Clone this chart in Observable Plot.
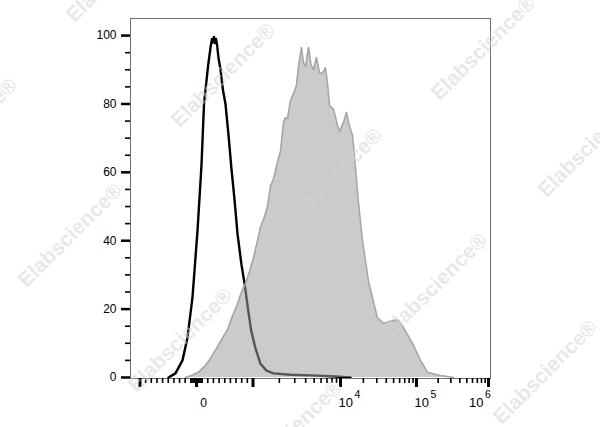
<!DOCTYPE html>
<html><head><meta charset="utf-8">
<script src="https://cdn.jsdelivr.net/npm/d3@7"></script>
<script src="https://cdn.jsdelivr.net/npm/@observablehq/plot@0.6"></script>
<style>
body{margin:0;background:#fff;}
#wrap{position:relative;width:600px;height:427px;overflow:hidden;background:#fff;}
#wm{position:absolute;left:0;top:0;width:600px;height:427px;pointer-events:none;}
.w{position:absolute;font:bold 21px "Liberation Sans",Arial,sans-serif;color:rgba(212,212,212,0.55);transform:translate(-50%,-50%) rotate(-45deg);white-space:nowrap;}
</style></head><body><div id="wrap"><div id="chart"></div><div id="wm"></div></div>
<script>
// Control (unstained) histogram: fluorescence intensity vs % of max
const blackX = [-496,-372,-248,-159,-71,18,88,133,204,248,274,292,310,327,345,363,389,425,469,513,566,619,673,726,796,855,912,968,1068,1218,1427,1715,2683,4540,8768,13540];
const blackY = [0,1.2,5,11.7,23.4,43,62,80,91,96.5,99,98,99.6,97.8,99,97.5,93.5,90,84,80,71,61,52,42,33,27,20,13.7,8.5,4,2,1.2,0.8,0.6,0.3,0];
// Stained histogram
const greyX = [-195,-88,35,159,265,354,460,549,637,726,796,867,938,1013,1126,1218,1353,1465,1585,1715,1905,2062,2232,2352,2480,2683,2903,3142,3311,3584,3777,3981,4308,4601,4914,5317,5754,6228,6740,7103,7486,8318,9241,9741,10950,11990,12740,14390,15750,17250,19480,21330,23360,26370,30400,36800,42820,49830,57980,67450,88600,113700,142200,215400,326500];
const greyY = [0,0.6,1.5,3.5,6,8.5,11.5,14,18,21.5,25,27.5,31,35,40,44,47,50,56,58,63,66,74.6,76,75.7,81,83,85.5,91,96.5,92,91,96.5,91.5,90,93.6,89,89,90.6,86,79.5,78.5,73.7,72,74.6,77.5,74.6,70.8,61,51,40,34,28,23.4,17.6,15.8,16.3,16.7,16.7,14.6,10,5,1.5,0.6,0];

// Axis ticks and labels
const yMajor = [0,20,40,60,80,100];
const yMinor = [5,10,15,25,30,35,45,50,55,65,70,75,85,90,95];
const xMajor = [-1000,0,1000,1e4,1e5,1e6];
const xMinorLinear = [-900,-800,-700,-600,-500,-400,-300,-200,-100,-80,-60,-40,-20,20,40,60,80,100,200,300,400,500,600,700,800,900];
const xMinorMantissa = [2,3,4,5,6,7,8,9];
const xLabelValues = [0,1e4,1e5,1e6];
const xLabelBase = ["0","10","10","10"];
const xLabelExp = ["","4","5","6"];
const xMin = -1284, xMax = 1.067e6;
const yMin = -0.3, yMax = 105;

// biexponential-like display transform (linear within ±1000, log beyond)
const LIN = 1000;
const decadeWidth = [1.549, 1.345, 1.274];
function disp(v){
  const a = Math.abs(v), s = Math.sign(v);
  if (a <= LIN) return v / LIN;
  let L = Math.log10(a / LIN), d = 1;
  for (let i = 0; i < decadeWidth.length && L > 0; i++){
    const step = Math.min(L, 1); d += step * decadeWidth[i]; L -= step;
  }
  if (L > 0) d += L * decadeWidth[decadeWidth.length - 1];
  return s * d;
}

const black = blackX.map((v,i)=>({x:disp(v), y:blackY[i]}));
const grey = greyX.map((v,i)=>({x:disp(v), y:greyY[i]}));
const xMinor = xMinorLinear.concat(xMinorMantissa.flatMap(m=>[m*1e3,m*1e4,m*1e5]));
const xDomain = [disp(xMin), disp(xMax)];
const labels = xLabelValues.map((v,i)=>({
  v, base:xLabelBase[i], exp:xLabelExp[i],
  lx: xLabelExp[i] === "" ? disp(v) + 0.124 : Math.min(disp(v) + 0.221, xDomain[1] - 0.124)
}));
const zeroLab = labels.filter(d=>d.exp==="");
const powLab = labels.filter(d=>d.exp!=="");
const blank = () => "";

const chart = Plot.plot({
  width:600, height:427,
  marginLeft:130, marginRight:110, marginTop:18, marginBottom:49,
  style:{fontFamily:"'Liberation Sans', Arial, sans-serif", fontSize:"12px", color:"#000", background:"#fff"},
  x:{domain:xDomain, axis:null},
  y:{domain:[yMin,yMax], axis:null},
  marks:[
    Plot.lineY(black,{x:"x", y:"y", stroke:"#000", strokeWidth:2.4}),
    Plot.areaY(grey,{x:"x", y:"y", fill:"#9e9e9e", fillOpacity:0.54}),
    Plot.lineY(grey,{x:"x", y:"y", stroke:"#a6a6a6", strokeWidth:1.6}),
    Plot.frame({stroke:"#707070", strokeWidth:1}),
    Plot.axisY(yMajor,{tickSize:9, tickPadding:5, strokeWidth:2.5, stroke:"#000", fontSize:12, fill:"#000", label:null}),
    Plot.axisY(yMinor,{tickSize:5, strokeWidth:1.6, stroke:"#000", tickFormat:blank, label:null}),
    Plot.axisX(xMajor.map(disp),{tickSize:9, strokeWidth:3, stroke:"#000", tickFormat:blank, label:null}),
    Plot.axisX(xMinor.map(disp),{tickSize:5, strokeWidth:1.6, stroke:"#000", tickFormat:blank, label:null}),
    Plot.text(zeroLab,{x:"lx", text:"base", frameAnchor:"bottom", dy:28.2, fontSize:12, textAnchor:"middle", fill:"#000"}),
    Plot.text(powLab,{x:"lx", text:"base", frameAnchor:"bottom", dy:28.8, fontSize:13, textAnchor:"end", fill:"#000"}),
    Plot.text(powLab,{x:"lx", text:"exp", frameAnchor:"bottom", dy:19.6, dx:1.5, fontSize:10.5, textAnchor:"start", fill:"#000"})
  ]
});
document.getElementById("chart").appendChild(chart);

// watermark overlay
const wmCenters = [[118,-30],[223,75],[330,180],[435,285],[545,372],[483,48],[590,145],[-35,130],[70,235],[180,340],[290,432]];
const wm = document.getElementById("wm");
for (const [cx,cy] of wmCenters){
  const s = document.createElement("div");
  s.className = "w"; s.textContent = "Elabscience®";
  s.style.left = cx + "px"; s.style.top = cy + "px";
  wm.appendChild(s);
}
</script>
</body></html>
